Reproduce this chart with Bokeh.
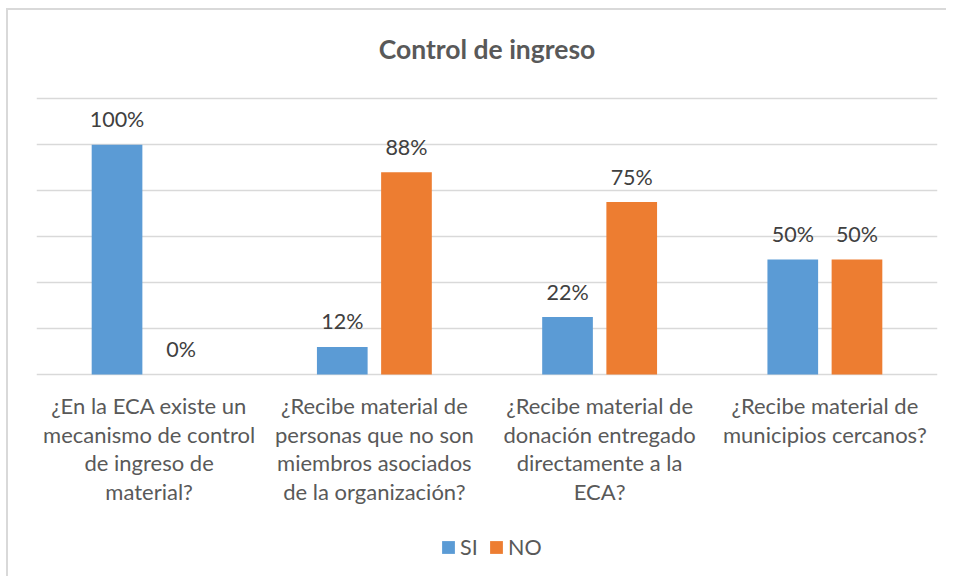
from bokeh.plotting import figure
from bokeh.models import (ColumnDataSource, FactorRange, Range1d, LabelSet, Label, Legend,
                          LegendItem, FixedTicker)
from bokeh.transform import dodge
from bokeh.core.properties import value
from bokeh.embed import file_html
from bokeh.resources import INLINE

# ---- data ----
title_text = "Control de ingreso"
categories = [
    "¿En la ECA existe un\nmecanismo de control\nde ingreso de\nmaterial?",
    "¿Recibe material de\npersonas que no son\nmiembros asociados\nde la organización?",
    "¿Recibe material de\ndonación entregado\ndirectamente a la\nECA?",
    "¿Recibe material de\nmunicipios cercanos?",
]
series = ["SI", "NO"]
si_values = [100, 12, 25, 50]
no_values = [0, 88, 75, 50]
si_labels = ["100%", "12%", "22%", "50%"]
no_labels = ["0%", "88%", "75%", "50%"]
grid_ticks = [0, 20, 40, 60, 80, 100, 120]

FONT = "Lato"
FS = "21.5px"
FS_CAT = "22px"
BLUE = "#5B9BD5"
ORANGE = "#ED7D31"
GRID = "#d9d9d9"

n_lines = max(len(c.split("\n")) for c in categories)
data = dict(cat=categories, si=si_values, no=no_values, si_lab=si_labels, no_lab=no_labels)
for i in range(n_lines):
    data[f"line{i}"] = [(c.split("\n") + [""] * n_lines)[i] for c in categories]
source = ColumnDataSource(data)

# frame covers whole canvas height; 0 sits 364px below the top (2.29876 px per unit)
p = figure(x_range=FactorRange(*categories), y_range=Range1d(-87.87, 158.35),
           frame_width=901, frame_height=566, output_backend="svg", toolbar_location=None,
           min_border_left=28, min_border_right=9, min_border_top=0, min_border_bottom=0,
           outline_line_color=None)
p.styles = {"margin-left": "6px", "margin-top": "8px",
            "border-left": "2px solid #d9d9d9", "border-top": "2px solid #d9d9d9"}

p.xaxis.visible = False
p.yaxis.visible = False
p.xgrid.visible = False
p.ygrid.ticker = FixedTicker(ticks=grid_ticks)
p.ygrid.grid_line_color = GRID
p.ygrid.grid_line_width = 1.3

# title
p.add_layout(Label(x=2, y=141.4, text=title_text, text_align="center",
                   text_baseline="alphabetic", text_font=FONT, text_font_size="26.5px",
                   text_font_style="bold", text_color="#595959"))

off = 0.1425
bw = 0.225
r1 = p.vbar(x=dodge("cat", -off, range=p.x_range), top="si", width=bw, source=source,
            fill_color=BLUE, line_color=None)
r2 = p.vbar(x=dodge("cat", off, range=p.x_range), top="no", width=bw, source=source,
            fill_color=ORANGE, line_color=None)

# data labels
for col, lab, o in (("si", "si_lab", -off), ("no", "no_lab", off)):
    p.add_layout(LabelSet(x=dodge("cat", o, range=p.x_range), y=col, text=lab, source=source,
                          text_align="center", text_baseline="alphabetic", y_offset=17.5,
                          text_font=value(FONT), text_font_size=value(FS),
                          text_color="#404040"))

# category labels under the baseline, one centred LabelSet per text line
for i in range(n_lines):
    p.add_layout(LabelSet(x="cat", y=0, text=f"line{i}", source=source,
                          text_align="center", text_baseline="alphabetic",
                          y_offset=-39.3 - 28.7 * i,
                          text_font=value(FONT), text_font_size=value(FS_CAT),
                          text_color="#595959"))

legend = Legend(items=[LegendItem(label=series[0], renderers=[r1]),
                       LegendItem(label=series[1], renderers=[r2])],
                orientation="horizontal", location=(404, 16),
                border_line_color=None, background_fill_alpha=0,
                glyph_width=16, glyph_height=16, label_standoff=4, spacing=8,
                padding=0, margin=0,
                label_text_font=FONT, label_text_font_size=FS, label_text_color="#595959")
p.add_layout(legend, "center")

open("out.html", "w").write(file_html(p, INLINE))
